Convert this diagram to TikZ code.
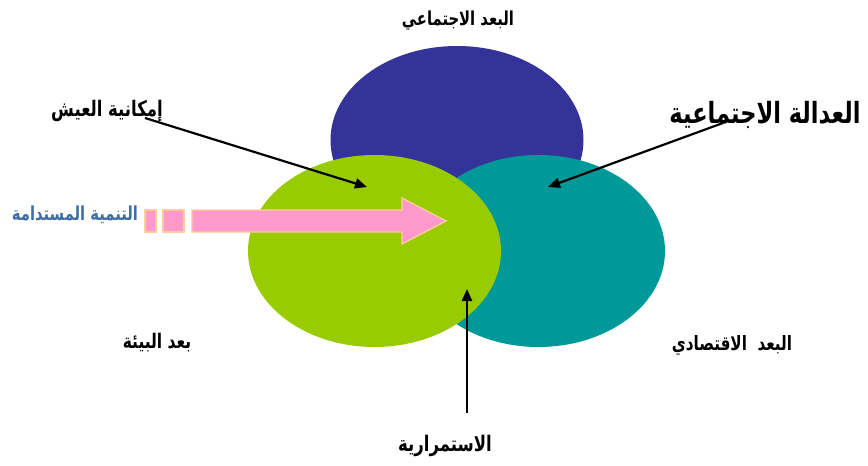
\documentclass[tikz,border=0pt]{standalone}
\usepackage{fontspec}
\usetikzlibrary{shapes.geometric,arrows.meta}
\TeXXeTstate=1
\newfontfamily\arabicfont[Script=Arabic]{DejaVu Sans}
\definecolor{socialblue}{HTML}{333399}
\definecolor{econteal}{HTML}{009999}
\definecolor{envgreen}{HTML}{99CC00}
\definecolor{flowpink}{HTML}{FF99CC}
\definecolor{flowedge}{HTML}{FFCC99}
\definecolor{titleblue}{RGB}{62,110,168}
\newcommand{\arsize}[1]{\arabicfont\bfseries\fontsize{#1}{#1}\selectfont}
% Arabic run, set right to left and stretched a little in height
\newcommand{\artext}[1]{\scalebox{1}[1.3]{\beginR #1\endR}}
\tikzset{
  circlepart/.style={ellipse, draw=none, inner sep=0pt, minimum width=253pt, minimum height=192pt},
  lbl/.style={inner sep=0pt, font=\arsize{15.5}},
  pointer/.style={line width=2.2pt, -{Triangle[length=12pt,width=10pt]}},
  flowblock/.style={fill=flowpink, draw=flowedge, line width=1.4pt, line join=miter}
}
\begin{document}
\begin{tikzpicture}[x=1pt,y=-1pt]
\useasboundingbox (0,0) rectangle (868,466);

% three overlapping dimensions
\node[circlepart, fill=socialblue, minimum height=188pt] (social) at (457,140) {};
\node[circlepart, fill=econteal] (econ) at (538.5,251) {};
\node[circlepart, fill=envgreen] (env) at (374.5,251) {};

% labels
\node[lbl, font=\arsize{14.8}] (tsocial) at (458,21) {\artext{البعد الاجتماعي}};
\node[lbl, font=\arsize{16.5}] (tlive) at (107,111) {\artext{إمكانية العيش}};
\node[lbl, font=\arsize{22.5}] (tjustice) at (765,115) {\artext{العدالة الاجتماعية}};
\node[lbl, text=titleblue, font=\arsize{14.8}] (tsustain) at (75,215) {\artext{التنمية المستدامة}};
\node[lbl] (tenv) at (157,343) {\artext{بعد البيئة}};
\node[lbl, font=\arsize{15.2}] (tecon) at (732,345) {\artext{البعد\ \ الاقتصادي}};
\node[lbl, font=\arsize{16.5}] (tcont) at (445,446) {\artext{الاستمرارية}};

% pointer arrows
\coordinate (livestart) at (145,118);
\coordinate (liveend) at (367,187);
\coordinate (juststart) at (723,123);
\coordinate (justend) at (548,187);
\coordinate (contstart) at (467,413);
\coordinate (contend) at (467,289);
\draw[pointer] (livestart) -- (liveend);
\draw[pointer] (juststart) -- (justend);
\draw[pointer] (contstart) -- (contend);

% dashed block arrow
\draw[flowblock] (145,210) rectangle (156,232);
\draw[flowblock] (163,210) rectangle (184,232);
\draw[flowblock] (192,210) -- (402,210) -- (402,198) -- (446,221) -- (402,244) -- (402,232) -- (192,232) -- cycle;
\end{tikzpicture}
\end{document}
